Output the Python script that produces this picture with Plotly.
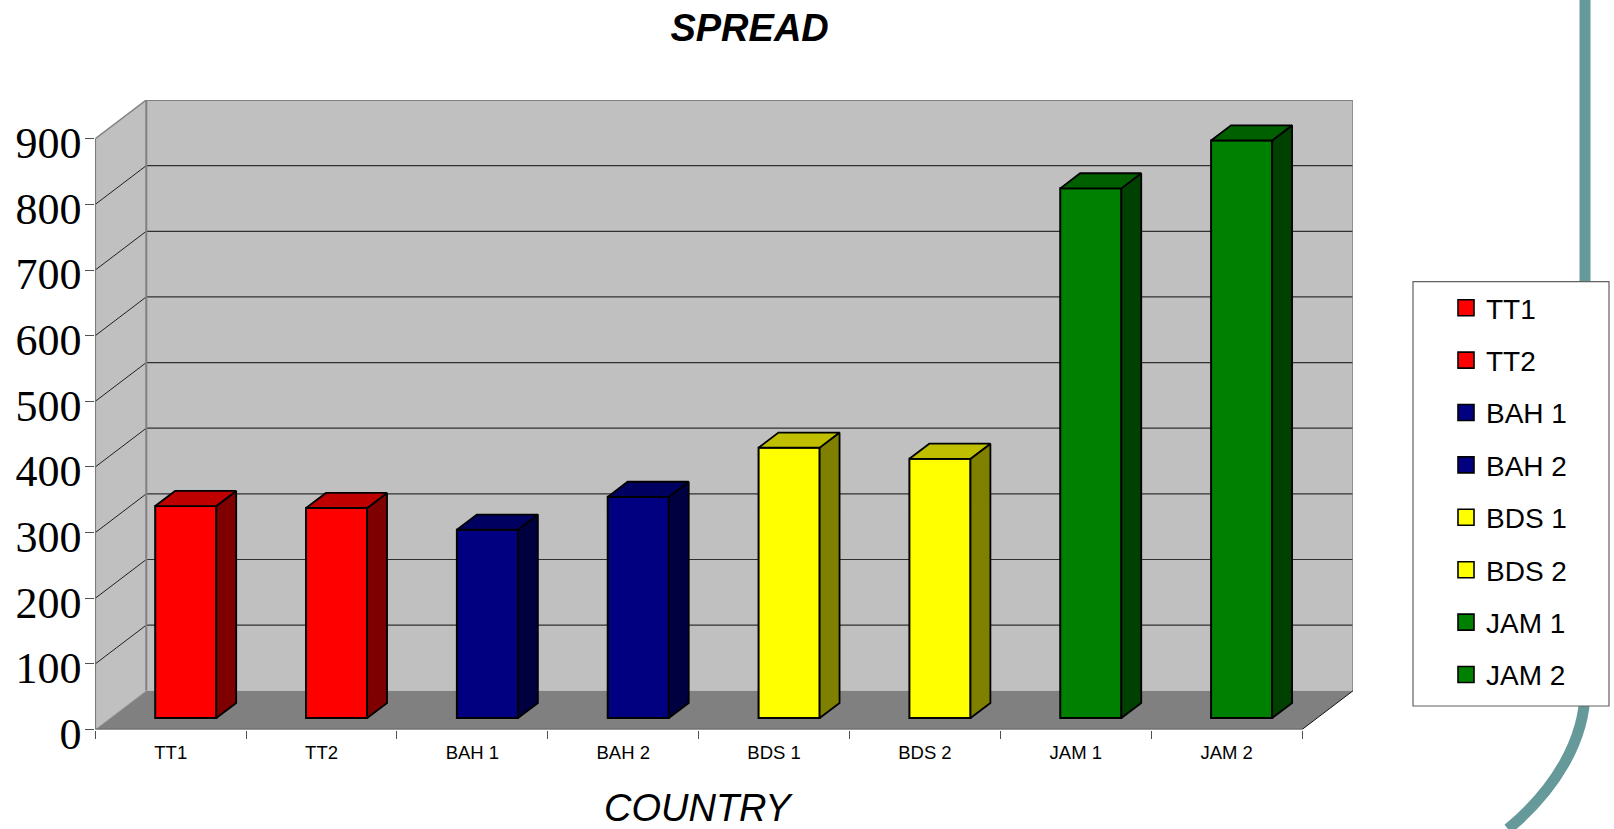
import plotly.graph_objects as go

# Chart data
categories = ["TT1", "TT2", "BAH 1", "BAH 2", "BDS 1", "BDS 2", "JAM 1", "JAM 2"]
spread = [323, 320, 287, 337, 412, 395, 807, 880]
y_ticks = [0, 100, 200, 300, 400, 500, 600, 700, 800, 900]

# Colour of each bar face
front_colors = ["#FF0000", "#FF0000", "#000080", "#000080", "#FFFF00", "#FFFF00", "#008000", "#008000"]
top_colors = ["#BF0000", "#BF0000", "#000060", "#000060", "#BFBF00", "#BFBF00", "#006000", "#006000"]
side_colors = ["#7F0000", "#7F0000", "#000040", "#000040", "#808000", "#808000", "#004000", "#004000"]

WIDTH, HEIGHT = 1614, 829
WALL_GREY = "#C0C0C0"
FLOOR_GREY = "#808080"
EDGE_GREY = "#808080"
AXIS_DARK = "#505050"

# Oblique projection: how far the back wall sits from the front plane, in axis units
DEPTH_X = 0.338
DEPTH_Y = 59.0
BAR_WIDTH = 0.405
BAR_FRONT = 0.295   # bar front and back faces as fractions of the depth
BAR_BACK = 0.685
Y_MAX = y_ticks[-1]
N = len(categories)

# Plot-area limits in pixels, expressed as paper fractions
AX_LEFT, AX_RIGHT = 95.3, 1353.0
AX_TOP, AX_BOTTOM = 100.0, 729.5


def paper_x(px):
    return px / WIDTH


def paper_y(px):
    return 1 - px / HEIGHT


def polygon_path(points):
    return "M " + " L ".join(f"{x} {y}" for x, y in points) + " Z"


def segment(x0, y0, x1, y1, color, width):
    return dict(type="line", xref="x", yref="y", layer="below", x0=x0, y0=y0, x1=x1, y1=y1,
                line=dict(color=color, width=width))


shapes = [
    # Decorative teal rule running down the right of the page
    dict(type="path", xref="paper", yref="paper", layer="below",
         path=(f"M {paper_x(1585)} {paper_y(0)} L {paper_x(1585)} {paper_y(690)} "
               f"C {paper_x(1585)} {paper_y(740)} {paper_x(1555)} {paper_y(790)} "
               f"{paper_x(1508)} {paper_y(829)}"),
         line=dict(color="#669999", width=11)),
    # Left wall, back wall, floor
    dict(type="path", xref="x", yref="y", layer="below", line_width=0, fillcolor=WALL_GREY,
         path=polygon_path([(0, 0), (DEPTH_X, DEPTH_Y), (DEPTH_X, Y_MAX + DEPTH_Y), (0, Y_MAX)])),
    dict(type="path", xref="x", yref="y", layer="below", line_width=0, fillcolor=WALL_GREY,
         path=polygon_path([(DEPTH_X, DEPTH_Y), (N + DEPTH_X, DEPTH_Y),
                            (N + DEPTH_X, Y_MAX + DEPTH_Y), (DEPTH_X, Y_MAX + DEPTH_Y)])),
    dict(type="path", xref="x", yref="y", layer="below", line_width=0, fillcolor=FLOOR_GREY,
         path=polygon_path([(0, 0), (N, 0), (N + DEPTH_X, DEPTH_Y), (DEPTH_X, DEPTH_Y)])),
]

# Gridlines wrap from the left wall onto the back wall
for tick in y_ticks[1:-1]:
    shapes.append(segment(0, tick, DEPTH_X, tick + DEPTH_Y, "#202020", 1))
    shapes.append(segment(DEPTH_X, tick + DEPTH_Y, N + DEPTH_X, tick + DEPTH_Y, "#303030", 1.2))

# Wall outlines and the two front axis lines
shapes += [
    segment(0, Y_MAX, DEPTH_X, Y_MAX + DEPTH_Y, EDGE_GREY, 1.5),
    segment(DEPTH_X, Y_MAX + DEPTH_Y, N + DEPTH_X, Y_MAX + DEPTH_Y, EDGE_GREY, 2),
    segment(DEPTH_X, DEPTH_Y, DEPTH_X, Y_MAX + DEPTH_Y, EDGE_GREY, 2),
    segment(N + DEPTH_X, DEPTH_Y, N + DEPTH_X, Y_MAX + DEPTH_Y, EDGE_GREY, 1.5),
    segment(N, 0, N + DEPTH_X, DEPTH_Y, "#101010", 1),
    segment(0, 0, DEPTH_X, DEPTH_Y, "#a0a0a0", 1),
    segment(0, 0, 0, Y_MAX, AXIS_DARK, 1.5),
    segment(0, 0, N, 0, AXIS_DARK, 1.5),
    # Legend panel
    dict(type="rect", xref="paper", yref="paper", layer="above",
         x0=paper_x(1413), x1=paper_x(1609), y0=paper_y(706), y1=paper_y(281.7),
         fillcolor="white", line=dict(color="#606060", width=1.2)),
]

fig = go.Figure()

base_x = BAR_FRONT * DEPTH_X
base_y = BAR_FRONT * DEPTH_Y
run_x = (BAR_BACK - BAR_FRONT) * DEPTH_X
run_y = (BAR_BACK - BAR_FRONT) * DEPTH_Y

for i, (name, value) in enumerate(zip(categories, spread)):
    center = i + 0.5 + base_x
    left = center - BAR_WIDTH / 2
    right = center + BAR_WIDTH / 2
    bottom = base_y
    top = base_y + value

    # Front face
    fig.add_trace(go.Bar(x=[center], y=[value], base=[bottom], width=[BAR_WIDTH],
                         marker=dict(color=front_colors[i], line=dict(color="black", width=2)),
                         showlegend=False, hoverinfo="skip"))
    # Side face
    fig.add_trace(go.Scatter(x=[right, right + run_x, right + run_x, right, right],
                             y=[bottom, bottom + run_y, top + run_y, top, bottom],
                             mode="lines", fill="toself", fillcolor=side_colors[i],
                             line=dict(color="black", width=1.8),
                             showlegend=False, hoverinfo="skip"))
    # Top face
    fig.add_trace(go.Scatter(x=[left, left + run_x, right + run_x, right, left],
                             y=[top, top + run_y, top + run_y, top, top],
                             mode="lines", fill="toself", fillcolor=top_colors[i],
                             line=dict(color="black", width=1.8),
                             showlegend=False, hoverinfo="skip"))

# Legend keys, one group per entry so the row gap can be set
for i, name in enumerate(categories):
    fig.add_trace(go.Scatter(x=[None], y=[None], mode="markers", name=name, legendgroup=name,
                             marker=dict(symbol="square", size=16, color=front_colors[i],
                                         line=dict(color="black", width=1.6))))

fig.update_layout(
    width=WIDTH,
    height=HEIGHT,
    margin=dict(l=0, r=0, t=0, b=0, autoexpand=False),
    autosize=False,
    paper_bgcolor="white",
    plot_bgcolor="rgba(0,0,0,0)",
    barmode="overlay",
    shapes=shapes,
    title=dict(text="SPREAD", x=paper_x(749.6), y=paper_y(28), xref="paper", yref="paper",
               xanchor="center", yanchor="middle",
               font=dict(family="Liberation Sans", size=38, color="black", weight=700, style="italic")),
    xaxis=dict(domain=[paper_x(AX_LEFT), paper_x(AX_RIGHT)], range=[0, N + DEPTH_X],
               tickmode="array", tickvals=[i + 0.5 for i in range(N)], ticktext=categories,
               ticks="", showgrid=False, zeroline=False, showline=False, ticklabelstandoff=10,
               tickfont=dict(family="Liberation Sans", size=18.5, color="black"),
               minor=dict(tickmode="array", tickvals=list(range(N + 1)), ticks="outside",
                          ticklen=8, tickwidth=1.2, tickcolor=AXIS_DARK, showgrid=False)),
    yaxis=dict(domain=[paper_y(AX_BOTTOM), paper_y(AX_TOP)], range=[0, Y_MAX + DEPTH_Y],
               tickmode="array", tickvals=y_ticks, ticks="outside", ticklen=9, tickwidth=1.2,
               tickcolor=AXIS_DARK, showgrid=False, zeroline=False, showline=False,
               ticklabelstandoff=-5, ticklabelshift=4,
               tickfont=dict(family="Liberation Serif", size=44, color="black")),
    legend=dict(x=paper_x(1446), y=paper_y(283), xanchor="left", yanchor="top",
                bgcolor="rgba(0,0,0,0)", borderwidth=0, tracegroupgap=13, traceorder="grouped",
                itemsizing="trace", itemclick=False, itemdoubleclick=False,
                font=dict(family="Liberation Sans", size=28, color="black")),
    annotations=[dict(text="COUNTRY", xref="x", yref="paper", x=N / 2, y=paper_y(808),
                      xanchor="center", yanchor="middle", showarrow=False,
                      font=dict(family="Liberation Sans", size=38, color="black", style="italic"))],
)

fig.write_html("out.html")
